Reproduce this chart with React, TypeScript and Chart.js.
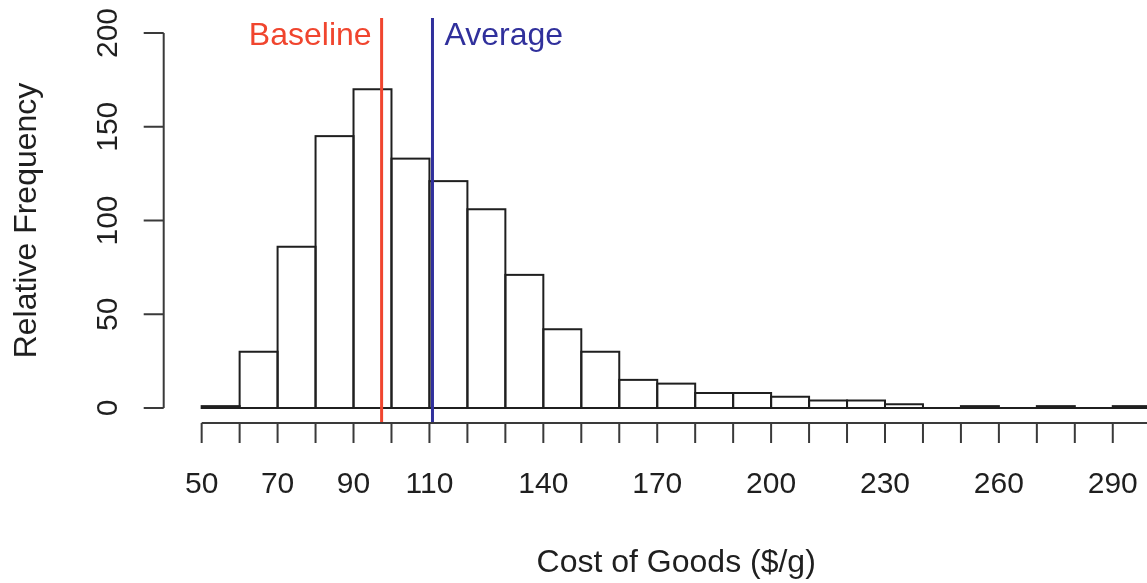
import React, { useEffect, useRef } from "react";
import { Chart, registerables } from "chart.js";

Chart.register(...registerables);

// ---- data ----
const BIN_WIDTH = 10;
const binStarts = [50, 60, 70, 80, 90, 100, 110, 120, 130, 140, 150, 160, 170, 180, 190, 200, 210, 220, 230, 240, 250, 260, 270, 280, 290];
const counts = [1, 30, 86, 145, 170, 133, 121, 106, 71, 42, 30, 15, 13, 8, 8, 6, 4, 4, 2, 0, 1, 0, 1, 0, 1];
const xTickValues = [50, 60, 70, 80, 90, 100, 110, 120, 130, 140, 150, 160, 170, 180, 190, 200, 210, 220, 230, 240, 250, 260, 270, 280, 290, 300];
const xTickLabels = [50, 70, 90, 110, 140, 170, 200, 230, 260, 290];
const yTickValues = [0, 50, 100, 150, 200];
const baselineCost = 97.4;
const averageCost = 110.8;
const markerLabelY = 200;

const X_MIN = 40;
const X_MAX = 310;
const Y_MIN = -8;
const Y_MAX = 208;

const RED = "#F0452E";
const BLUE = "#30309C";
const INK = "#1f1f1f";
const FONT = "'Liberation Sans', Arial, Helvetica, sans-serif";

const rHistPlugin = {
  id: "rHist",
  beforeDatasetsDraw(chart: any) {
    const ctx = chart.ctx;
    const meta = chart.getDatasetMeta(0);
    ctx.save();
    ctx.strokeStyle = INK;
    ctx.lineWidth = 2;
    meta.data.forEach((el: any) => {
      const { x, y, base, width } = el.getProps(["x", "y", "base", "width"], true);
      ctx.strokeRect(x - width / 2, Math.min(y, base), width, Math.abs(base - y));
    });
    ctx.restore();
  },
  afterDraw(chart: any) {
    const ctx = chart.ctx;
    const xs = chart.scales.x;
    const ys = chart.scales.y;
    const area = chart.chartArea;
    ctx.save();
    ctx.strokeStyle = "#3a3a3a";
    ctx.fillStyle = INK;
    ctx.lineWidth = 2;

    // x axis
    const axY = area.bottom;
    ctx.beginPath();
    ctx.moveTo(xs.getPixelForValue(xTickValues[0]), axY);
    ctx.lineTo(xs.getPixelForValue(xTickValues[xTickValues.length - 1]), axY);
    xTickValues.forEach((v) => {
      const px = xs.getPixelForValue(v);
      ctx.moveTo(px, axY);
      ctx.lineTo(px, axY + 20);
    });
    ctx.stroke();
    ctx.font = `30px ${FONT}`;
    ctx.textAlign = "center";
    ctx.textBaseline = "alphabetic";
    xTickLabels.forEach((v) => {
      ctx.fillText(String(v), xs.getPixelForValue(v), axY + 70);
    });

    // y axis
    const axX = area.left;
    ctx.beginPath();
    ctx.moveTo(axX, ys.getPixelForValue(yTickValues[0]));
    ctx.lineTo(axX, ys.getPixelForValue(yTickValues[yTickValues.length - 1]));
    yTickValues.forEach((v) => {
      const py = ys.getPixelForValue(v);
      ctx.moveTo(axX, py);
      ctx.lineTo(axX - 20, py);
    });
    ctx.stroke();
    yTickValues.forEach((v) => {
      ctx.save();
      ctx.translate(axX - 46.7, ys.getPixelForValue(v));
      ctx.rotate(-Math.PI / 2);
      ctx.fillText(String(v), 0, 0);
      ctx.restore();
    });

    // titles
    ctx.font = `32px ${FONT}`;
    ctx.fillText("Cost of Goods ($/g)", (area.left + area.right) / 2, 572);
    ctx.save();
    ctx.translate(36, (area.top + area.bottom) / 2);
    ctx.rotate(-Math.PI / 2);
    ctx.fillText("Relative Frequency", 0, 0);
    ctx.restore();

    // marker labels
    const ly = ys.getPixelForValue(markerLabelY) + 12;
    ctx.fillStyle = RED;
    ctx.textAlign = "right";
    ctx.fillText("Baseline", xs.getPixelForValue(baselineCost) - 10, ly);
    ctx.fillStyle = BLUE;
    ctx.textAlign = "left";
    ctx.fillText("Average", xs.getPixelForValue(averageCost) + 12, ly);
    ctx.restore();
  },
};

export default function App() {
  const ref = useRef<HTMLCanvasElement>(null);
  useEffect(() => {
    if (!ref.current) return;
    const chart = new Chart(ref.current, {
      type: "bar",
      data: {
        datasets: [
          {
            type: "bar",
            label: "Frequency",
            data: binStarts.map((s, i) => ({ x: s + BIN_WIDTH / 2, y: counts[i] })),
            backgroundColor: "rgba(0,0,0,0)",
            borderWidth: 0,
            barPercentage: 1,
            categoryPercentage: 1,
          } as any,
          {
            type: "line",
            label: "Baseline",
            data: [
              { x: baselineCost, y: Y_MIN },
              { x: baselineCost, y: Y_MAX },
            ],
            borderColor: RED,
            borderWidth: 3,
            pointRadius: 0,
            fill: false,
          } as any,
          {
            type: "line",
            label: "Average",
            data: [
              { x: averageCost, y: Y_MIN },
              { x: averageCost, y: Y_MAX },
            ],
            borderColor: BLUE,
            borderWidth: 3,
            pointRadius: 0,
            fill: false,
          } as any,
        ],
      },
      options: {
        responsive: false,
        animation: false,
        devicePixelRatio: 1,
        layout: { padding: { left: 163.7, top: 18, right: 1200 - 1188.7, bottom: 160 } },
        plugins: { legend: { display: false }, tooltip: { enabled: false } },
        scales: {
          x: { type: "linear", min: X_MIN, max: X_MAX, offset: false, display: false, ticks: { stepSize: 10 }, grid: { offset: false } },
          y: { type: "linear", min: Y_MIN, max: Y_MAX, display: false },
        },
      },
      plugins: [rHistPlugin],
    } as any);
    return () => chart.destroy();
  }, []);
  return (
    <div style={{ position: "absolute", left: 0, top: 0, width: 1147, height: 583, overflow: "hidden", background: "#fff" }}>
      <canvas ref={ref} width={1200} height={583} style={{ display: "block", width: 1200, height: 583 }} />
    </div>
  );
}
